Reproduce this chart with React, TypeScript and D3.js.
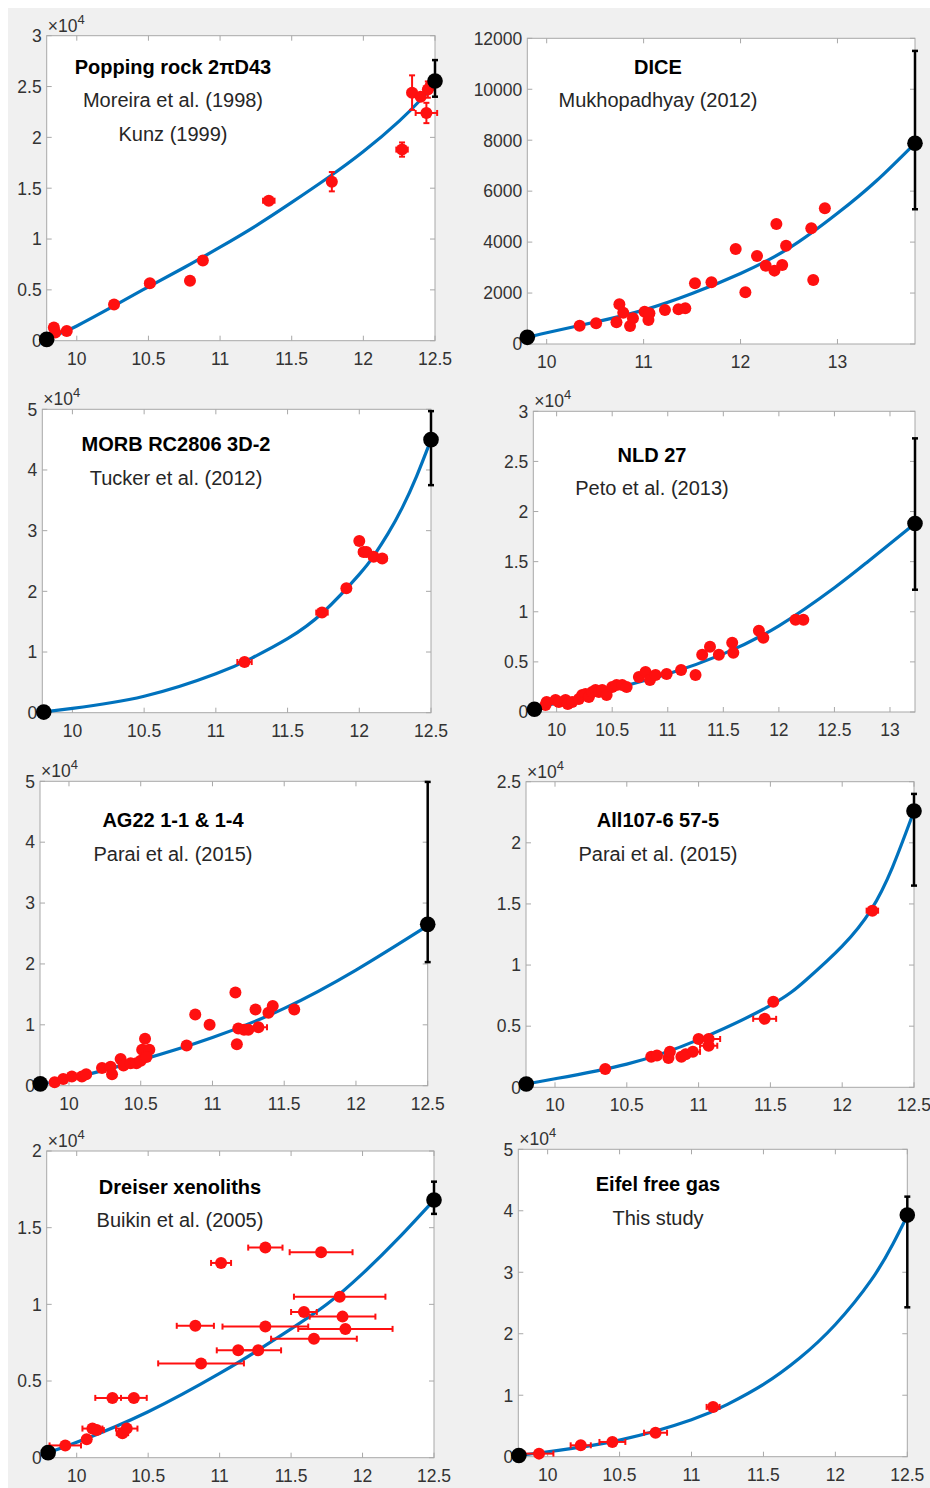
import React from 'react';
import * as d3 from 'd3';

type Pt = [number, number, number?, number?];

// ---------- Panel 1: Popping rock ----------
const p1Curve: [number, number][] = [[9.79, 0.02], [9.9, 0.08], [10.0, 0.145], [10.25, 0.335], [10.5, 0.53], [10.75, 0.72], [11.0, 0.92], [11.25, 1.13], [11.5, 1.36], [11.75, 1.6], [12.0, 1.86], [12.25, 2.16], [12.4, 2.37], [12.5, 2.52]];
const p1Points: Pt[] = [[9.84, 0.13, 0, 0.03], [9.85, 0.08], [9.93, 0.095], [10.26, 0.357], [10.51, 0.564, 0.03, 0], [10.79, 0.59], [10.88, 0.79], [11.34, 1.377, 0.04, 0], [11.78, 1.564, 0, 0.095], [12.27, 1.88, 0.04, 0.07], [12.34, 2.44, 0.03, 0.17], [12.4, 2.4], [12.44, 2.24, 0.075, 0.1], [12.45, 2.47, 0.02, 0.08], [12.47, 2.51]];
const p1Left: [number, number] = [9.79, 0.013];
const p1Right: [number, number, number, number] = [12.5, 2.555, 2.4, 2.76];

// ---------- Panel 2: DICE ----------
const p2Curve: [number, number][] = [[9.8, 262], [10.0, 440], [10.5, 860], [11.0, 1330], [11.5, 1980], [12.0, 2770], [12.5, 3760], [13.0, 5130], [13.4, 6400], [13.8, 7880]];
const p2Points: Pt[] = [[10.34, 720], [10.51, 812], [10.72, 850], [10.75, 1557, 0.04, 0], [10.79, 1230], [10.86, 707], [10.89, 1008], [11.01, 1270], [11.05, 942], [11.06, 1204], [11.22, 1335], [11.36, 1361], [11.43, 1400], [11.53, 2382], [11.7, 2421], [11.95, 3730], [12.05, 2028], [12.17, 3455], [12.26, 3075], [12.35, 2880], [12.37, 4712], [12.43, 3100], [12.47, 3860], [12.73, 4540], [12.75, 2513], [12.87, 5327, 0.04, 0]];
const p2Left: [number, number] = [9.8, 262];
const p2Right: [number, number, number, number] = [13.8, 7880, 5290, 11505];

// ---------- Panel 3: MORB ----------
const p3Curve: [number, number][] = [[9.79, 0.01], [10.0, 0.07], [10.5, 0.27], [11.0, 0.64], [11.25, 0.9], [11.5, 1.22], [11.75, 1.66], [12.0, 2.28], [12.1, 2.58], [12.2, 2.95], [12.3, 3.38], [12.4, 3.9], [12.5, 4.5]];
const p3Points: Pt[] = [[11.2, 0.835, 0.05, 0], [11.74, 1.65, 0.04, 0], [11.91, 2.05], [12.0, 2.83], [12.03, 2.65, 0.03, 0], [12.05, 2.65], [12.1, 2.57, 0.03, 0], [12.16, 2.54, 0.03, 0]];
const p3Left: [number, number] = [9.8, 0.01];
const p3Right: [number, number, number, number] = [12.5, 4.5, 3.75, 4.97];

// ---------- Panel 4: NLD 27 ----------
const p4Curve: [number, number][] = [[9.79, 0.03], [10.0, 0.09], [10.5, 0.23], [11.0, 0.38], [11.5, 0.58], [12.0, 0.86], [12.5, 1.24], [12.8, 1.5], [13.225, 1.88]];
const p4Points: Pt[] = [[9.9, 0.07], [9.91, 0.1], [9.99, 0.12], [10.02, 0.1], [10.08, 0.12], [10.1, 0.08], [10.14, 0.1], [10.2, 0.13], [10.23, 0.17], [10.26, 0.18], [10.29, 0.15], [10.32, 0.2], [10.35, 0.22], [10.38, 0.2], [10.41, 0.22], [10.45, 0.17], [10.5, 0.25], [10.54, 0.27], [10.59, 0.27], [10.63, 0.25], [10.74, 0.35], [10.8, 0.4], [10.84, 0.32], [10.89, 0.37], [10.99, 0.38], [11.12, 0.42], [11.25, 0.37], [11.31, 0.57], [11.38, 0.65], [11.46, 0.57], [11.58, 0.69], [11.59, 0.59], [11.82, 0.81], [11.86, 0.74], [12.15, 0.92], [12.22, 0.92]];
const p4Left: [number, number] = [9.8, 0.027];
const p4Right: [number, number, number, number] = [13.225, 1.88, 1.22, 2.73];

// ---------- Panel 5: AG22 ----------
const p5Curve: [number, number][] = [[9.8, 0.03], [10.0, 0.11], [10.5, 0.42], [11.0, 0.79], [11.5, 1.27], [12.0, 1.9], [12.5, 2.63]];
const p5Points: Pt[] = [[9.9, 0.055], [9.96, 0.11], [10.02, 0.15], [10.09, 0.15], [10.12, 0.19], [10.23, 0.29], [10.29, 0.31], [10.3, 0.19], [10.36, 0.44], [10.38, 0.33], [10.43, 0.37], [10.47, 0.37], [10.5, 0.41], [10.53, 0.77], [10.51, 0.59], [10.56, 0.59], [10.54, 0.47], [10.82, 0.66], [10.88, 1.17], [10.98, 1.0], [11.16, 1.53], [11.17, 0.68], [11.18, 0.94], [11.22, 0.92], [11.25, 0.92], [11.3, 1.25], [11.32, 0.96, 0.06, 0], [11.39, 1.2], [11.42, 1.31], [11.57, 1.25]];
const p5Left: [number, number] = [9.8, 0.03];
const p5Right: [number, number, number, number] = [12.5, 2.65, 2.03, 4.99];

// ---------- Panel 6: All107-6 ----------
const p6Curve: [number, number][] = [[9.8, 0.027], [10.0, 0.07], [10.5, 0.19], [11.0, 0.39], [11.5, 0.67], [11.75, 0.88], [12.0, 1.155], [12.2, 1.45], [12.35, 1.8], [12.5, 2.26]];
const p6Points: Pt[] = [[10.35, 0.15], [10.67, 0.25], [10.71, 0.26], [10.79, 0.24], [10.8, 0.29], [10.88, 0.25], [10.91, 0.27], [10.96, 0.29, 0.05, 0], [11.0, 0.395], [11.07, 0.395, 0.08, 0], [11.07, 0.34, 0.06, 0], [11.46, 0.56, 0.08, 0], [11.52, 0.7], [12.21, 1.445, 0.04, 0]];
const p6Left: [number, number] = [9.8, 0.027];
const p6Right: [number, number, number, number] = [12.5, 2.26, 1.65, 2.4];

// ---------- Panel 7: Dreiser ----------
const p7Curve: [number, number][] = [[9.8, 0.033], [10.0, 0.1], [10.5, 0.3], [11.0, 0.55], [11.25, 0.69], [11.5, 0.84], [11.75, 1.0], [12.0, 1.2], [12.25, 1.43], [12.5, 1.68]];
const p7Points: Pt[] = [[9.92, 0.08, 0.11, 0], [10.07, 0.12, 0.02, 0], [10.11, 0.19, 0.07, 0], [10.14, 0.18, 0.05, 0], [10.25, 0.39, 0.12, 0], [10.4, 0.39, 0.09, 0], [10.32, 0.16, 0.04, 0], [10.35, 0.19, 0.075, 0], [10.87, 0.615, 0.3, 0], [10.83, 0.86, 0.13, 0], [11.01, 1.27, 0.07, 0], [11.13, 0.7, 0.15, 0], [11.27, 0.7, 0.16, 0], [11.32, 0.855, 0.3, 0], [11.32, 1.37, 0.12, 0], [11.59, 0.95, 0.09, 0], [11.66, 0.776, 0.3, 0], [11.71, 1.34, 0.22, 0], [11.84, 1.05, 0.32, 0], [11.86, 0.92, 0.23, 0], [11.88, 0.84, 0.33, 0]];
const p7Left: [number, number] = [9.8, 0.033];
const p7Right: [number, number, number, number] = [12.5, 1.68, 1.59, 1.8];

// ---------- Panel 8: Eifel ----------
const p8Curve: [number, number][] = [[9.8, 0.02], [10.0, 0.08], [10.5, 0.27], [11.0, 0.6], [11.25, 0.85], [11.5, 1.175], [11.75, 1.6], [12.0, 2.15], [12.25, 2.875], [12.4, 3.46], [12.5, 3.92]];
const p8Points: Pt[] = [[9.94, 0.05, 0.1, 0], [10.23, 0.185, 0.07, 0], [10.45, 0.24, 0.09, 0], [10.75, 0.39, 0.08, 0], [11.15, 0.81, 0.045, 0]];
const p8Left: [number, number] = [9.8, 0.02];
const p8Right: [number, number, number, number] = [12.5, 3.93, 2.43, 4.23];

// tick values
const xTicksHalf = [10, 10.5, 11, 11.5, 12, 12.5];
const xTicksHalf13 = [10, 10.5, 11, 11.5, 12, 12.5, 13];
const xTicksInt = [10, 11, 12, 13];
const yTicks3 = [0, 0.5, 1, 1.5, 2, 2.5, 3];
const yTicks5 = [0, 1, 2, 3, 4, 5];
const yTicks25 = [0, 0.5, 1, 1.5, 2, 2.5];
const yTicks2 = [0, 0.5, 1, 1.5, 2];
const yTicks12k = [0, 2000, 4000, 6000, 8000, 10000, 12000];

interface PanelCfg {
  l: number; r: number; t: number; b: number;
  xDom: [number, number]; yMax: number;
  xTicks: number[]; yTicks: number[]; exp: boolean;
  lines: { text: string; bold: boolean; y: number }[];
  cx: number;
  curve: [number, number][];
  points: Pt[];
  left: [number, number];
  right: [number, number, number, number];
}

const panels: PanelCfg[] = [
  { l: 46.7, r: 435, t: 35.7, b: 340.7, xDom: [9.79, 12.5], yMax: 3, xTicks: xTicksHalf, yTicks: yTicks3, exp: true, cx: 173,
    lines: [{ text: 'Popping rock 2πD43', bold: true, y: 74 }, { text: 'Moreira et al. (1998)', bold: false, y: 107 }, { text: 'Kunz (1999)', bold: false, y: 141 }],
    curve: p1Curve, points: p1Points, left: p1Left, right: p1Right },
  { l: 527.3, r: 915, t: 38.3, b: 344, xDom: [9.8, 13.8], yMax: 12000, xTicks: xTicksInt, yTicks: yTicks12k, exp: false, cx: 658,
    lines: [{ text: 'DICE', bold: true, y: 74 }, { text: 'Mukhopadhyay (2012)', bold: false, y: 107 }],
    curve: p2Curve, points: p2Points, left: p2Left, right: p2Right },
  { l: 42.3, r: 431, t: 409.3, b: 712.7, xDom: [9.79, 12.5], yMax: 5, xTicks: xTicksHalf, yTicks: yTicks5, exp: true, cx: 176,
    lines: [{ text: 'MORB RC2806 3D-2', bold: true, y: 451 }, { text: 'Tucker et al. (2012)', bold: false, y: 485 }],
    curve: p3Curve, points: p3Points, left: p3Left, right: p3Right },
  { l: 533.3, r: 915, t: 411.3, b: 712, xDom: [9.79, 13.225], yMax: 3, xTicks: xTicksHalf13, yTicks: yTicks3, exp: true, cx: 652,
    lines: [{ text: 'NLD 27', bold: true, y: 462 }, { text: 'Peto et al. (2013)', bold: false, y: 495 }],
    curve: p4Curve, points: p4Points, left: p4Left, right: p4Right },
  { l: 40, r: 427.7, t: 781.3, b: 1085.7, xDom: [9.798, 12.5], yMax: 5, xTicks: xTicksHalf, yTicks: yTicks5, exp: true, cx: 173,
    lines: [{ text: 'AG22 1-1 & 1-4', bold: true, y: 827 }, { text: 'Parai et al. (2015)', bold: false, y: 861 }],
    curve: p5Curve, points: p5Points, left: p5Left, right: p5Right },
  { l: 526, r: 914, t: 781.7, b: 1087.3, xDom: [9.798, 12.5], yMax: 2.5, xTicks: xTicksHalf, yTicks: yTicks25, exp: true, cx: 658,
    lines: [{ text: 'All107-6 57-5', bold: true, y: 827 }, { text: 'Parai et al. (2015)', bold: false, y: 861 }],
    curve: p6Curve, points: p6Points, left: p6Left, right: p6Right },
  { l: 46.7, r: 434, t: 1151, b: 1457.7, xDom: [9.79, 12.5], yMax: 2, xTicks: xTicksHalf, yTicks: yTicks2, exp: true, cx: 180,
    lines: [{ text: 'Dreiser xenoliths', bold: true, y: 1194 }, { text: 'Buikin et al. (2005)', bold: false, y: 1227 }],
    curve: p7Curve, points: p7Points, left: p7Left, right: p7Right },
  { l: 518.3, r: 907.3, t: 1149.3, b: 1456.7, xDom: [9.796, 12.5], yMax: 5, xTicks: xTicksHalf, yTicks: yTicks5, exp: true, cx: 658,
    lines: [{ text: 'Eifel free gas', bold: true, y: 1191 }, { text: 'This study', bold: false, y: 1225 }],
    curve: p8Curve, points: p8Points, left: p8Left, right: p8Right },
];

const FONT = '"Liberation Sans", Arial, Helvetica, sans-serif';
const AXIS = '#a8a8a8';
const LABEL = '#333333';
const BLUE = '#0072BD';
const RED = '#ff1010';

function Panel({ c }: { c: PanelCfg }) {
  const x = d3.scaleLinear().domain(c.xDom).range([c.l, c.r]);
  const y = d3.scaleLinear().domain([0, c.yMax]).range([c.b, c.t]);
  const line = d3.line<[number, number]>().x(d => x(d[0])).y(d => y(d[1])).curve(d3.curveNatural);
  const fmt = d3.format('~g');
  const cap = 3;
  return (
    <g>
      <rect x={c.l} y={c.t} width={c.r - c.l} height={c.b - c.t} fill="#fff" />
      {c.xTicks.map(v => (
        <g key={'xt' + v}>
          <line x1={x(v)} x2={x(v)} y1={c.b} y2={c.b - 5} stroke={AXIS} />
          <line x1={x(v)} x2={x(v)} y1={c.t} y2={c.t + 5} stroke={AXIS} />
          <text x={x(v)} y={c.b + 24} textAnchor="middle" fontSize={17.5} fill={LABEL} fontFamily={FONT}>{fmt(v)}</text>
        </g>
      ))}
      {c.yTicks.map(v => (
        <g key={'yt' + v}>
          <line x1={c.l} x2={c.l + 5} y1={y(v)} y2={y(v)} stroke={AXIS} />
          <line x1={c.r} x2={c.r - 5} y1={y(v)} y2={y(v)} stroke={AXIS} />
          <text x={c.l - 5} y={y(v)} dy="0.36em" textAnchor="end" fontSize={17.5} fill={LABEL} fontFamily={FONT}>{fmt(v)}</text>
        </g>
      ))}
      <rect x={c.l} y={c.t} width={c.r - c.l} height={c.b - c.t} fill="none" stroke={AXIS} strokeWidth={1} />
      {c.exp && (
        <text x={c.l + 1} y={c.t - 4} fontSize={17.5} fill={LABEL} fontFamily={FONT}>
          ×10<tspan fontSize={13} dy={-8}>4</tspan>
        </text>
      )}
      <path d={line(c.curve) || ''} fill="none" stroke={BLUE} strokeWidth={3.2} />
      {c.points.map((p, i) => {
        const xe = p[2] || 0, ye = p[3] || 0;
        return (
          <g key={'e' + i} stroke={RED} strokeWidth={2}>
            {xe > 0 && <>
              <line x1={x(p[0] - xe)} x2={x(p[0] + xe)} y1={y(p[1])} y2={y(p[1])} />
              <line x1={x(p[0] - xe)} x2={x(p[0] - xe)} y1={y(p[1]) - cap} y2={y(p[1]) + cap} />
              <line x1={x(p[0] + xe)} x2={x(p[0] + xe)} y1={y(p[1]) - cap} y2={y(p[1]) + cap} />
            </>}
            {ye > 0 && <>
              <line x1={x(p[0])} x2={x(p[0])} y1={y(p[1] - ye)} y2={y(p[1] + ye)} />
              <line x1={x(p[0]) - cap} x2={x(p[0]) + cap} y1={y(p[1] - ye)} y2={y(p[1] - ye)} />
              <line x1={x(p[0]) - cap} x2={x(p[0]) + cap} y1={y(p[1] + ye)} y2={y(p[1] + ye)} />
            </>}
          </g>
        );
      })}
      {c.points.map((p, i) => (
        <circle key={'p' + i} cx={x(p[0])} cy={y(p[1])} r={6} fill={RED} />
      ))}
      <g stroke="#000" strokeWidth={2.5}>
        <line x1={x(c.right[0])} x2={x(c.right[0])} y1={y(c.right[2])} y2={y(c.right[3])} />
        <line x1={x(c.right[0]) - 3} x2={x(c.right[0]) + 3} y1={y(c.right[2])} y2={y(c.right[2])} />
        <line x1={x(c.right[0]) - 3} x2={x(c.right[0]) + 3} y1={y(c.right[3])} y2={y(c.right[3])} />
      </g>
      <circle cx={x(c.left[0])} cy={y(c.left[1])} r={7.8} fill="#000" />
      <circle cx={x(c.right[0])} cy={y(c.right[1])} r={7.8} fill="#000" />
      {c.lines.map((ln, i) => (
        <text key={'t' + i} x={c.cx} y={ln.y} textAnchor="middle" fontSize={20}
          fontWeight={ln.bold ? 'bold' : 'normal'} fill={ln.bold ? '#000' : '#262626'} fontFamily={FONT}>{ln.text}</text>
      ))}
    </g>
  );
}

export default function App() {
  return (
    <svg width={930} height={1488} style={{ position: 'absolute', left: 0, top: 0, background: '#fff' }}>
      <rect x={8} y={8} width={922} height={1480} fill="#f0f0f0" />
      {panels.map((c, i) => <Panel key={i} c={c} />)}
    </svg>
  );
}
